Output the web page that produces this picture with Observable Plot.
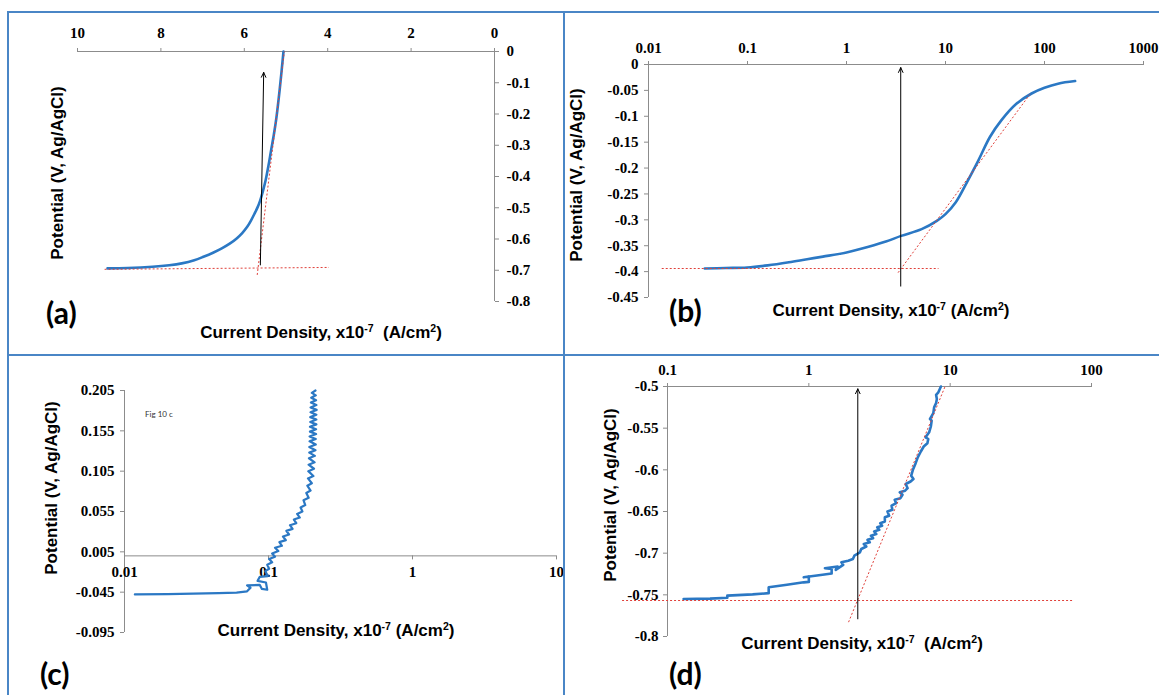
<!DOCTYPE html>
<html><head><meta charset="utf-8">
<script src="https://cdn.jsdelivr.net/npm/d3@7"></script>
<script src="https://cdn.jsdelivr.net/npm/@observablehq/plot@0.6"></script>
<style>
body{margin:0;background:#fff;}
#page{position:relative;width:1159px;height:695px;overflow:hidden;background:#fff;font-family:"Liberation Sans",Arial,sans-serif;}
#page svg{position:absolute;left:0;top:0;background:transparent;}
.bl{position:absolute;background:#4a86c6;}
.title{position:absolute;font-weight:bold;font-size:17px;white-space:nowrap;color:#000;line-height:1;}
.ytitle{transform:translate(-50%,-50%) rotate(-90deg);}
.xtitle{transform:translate(-50%,-50%);}
.plab{position:absolute;font-family:Lato,"Open Sans",sans-serif;font-weight:bold;font-size:30px;line-height:1;transform:translate(0,-50%);}
.fig{position:absolute;font-family:Lato,sans-serif;font-size:8px;color:#333;transform:translate(0,-50%);}
sup{font-size:62%;line-height:0;vertical-align:0.55em;}
</style></head>
<body><div id="page"></div>
<script>
// ---------- Panel (a) ----------
const aCurrent = [9.28, 8.8, 8.2, 7.8, 7.5, 7.2, 6.98, 6.75, 6.54, 6.35, 6.19, 6.05, 5.93, 5.84, 5.755, 5.68, 5.62, 5.55, 5.49, 5.42, 5.36, 5.29, 5.23, 5.15, 5.06];
const aPotential = [-0.694, -0.693, -0.689, -0.684, -0.678, -0.668, -0.657, -0.644, -0.630, -0.615, -0.599, -0.581, -0.561, -0.541, -0.519, -0.498, -0.477, -0.445, -0.413, -0.365, -0.318, -0.265, -0.212, -0.12, 0];
const aTangents = [{x1: 9.35, y1: -0.697, x2: 3.97, y2: -0.691}, {x1: 5.69, y1: -0.715, x2: 5.04, y2: 0}];
const aArrow = [{x1: 5.615, y1: -0.683, x2: 5.535, y2: -0.067}];
const aXTicks = [10, 8, 6, 4, 2, 0];
const aXLabels = ["10", "8", "6", "4", "2", "0"];
const aYTicks = [0, -0.1, -0.2, -0.3, -0.4, -0.5, -0.6, -0.7, -0.8];
const aYLabels = ["0", "-0.1", "-0.2", "-0.3", "-0.4", "-0.5", "-0.6", "-0.7", "-0.8"];

// ---------- Panel (b) ----------
const bCurrent = [0.037, 0.06, 0.099, 0.16, 0.262, 0.4, 0.578, 1.0, 1.67, 2.5, 3.56, 5.74, 8.17, 10, 12.7, 16.5, 21.5, 28.1, 36.6, 52, 74, 100, 137, 204];
const bPotential = [-0.394, -0.393, -0.392, -0.388, -0.382, -0.376, -0.371, -0.363, -0.352, -0.342, -0.331, -0.318, -0.302, -0.289, -0.266, -0.227, -0.185, -0.140, -0.108, -0.076, -0.056, -0.045, -0.037, -0.032];
const bTangents = [{x1: 0.0136, y1: -0.394, x2: 8.5, y2: -0.394}, {x1: 3.32, y1: -0.402, x2: 71, y2: -0.058}];
const bArrow = [{x1: 3.53, y1: -0.428, x2: 3.53, y2: -0.006}];
const bXTicks = [0.01, 0.1, 1, 10, 100, 1000];
const bXLabels = ["0.01", "0.1", "1", "10", "100", "1000"];
const bYTicks = [0, -0.05, -0.1, -0.15, -0.2, -0.25, -0.3, -0.35, -0.4, -0.45];
const bYLabels = ["0", "-0.05", "-0.1", "-0.15", "-0.2", "-0.25", "-0.3", "-0.35", "-0.4", "-0.45"];

// ---------- Panel (c) ----------
const cCurrent = [0.0118, 0.02, 0.03, 0.045, 0.06, 0.071, 0.075, 0.071, 0.087, 0.09, 0.098, 0.096, 0.084, 0.087, 0.099, 0.095, 0.101, 0.098, 0.106, 0.101, 0.111, 0.106, 0.117, 0.111, 0.124, 0.119, 0.132, 0.126, 0.139, 0.133, 0.147, 0.141, 0.156, 0.150, 0.165, 0.158, 0.172, 0.167, 0.180, 0.175, 0.190, 0.183, 0.196, 0.186, 0.200, 0.188, 0.205, 0.189, 0.207, 0.190, 0.209, 0.191, 0.210, 0.192, 0.212, 0.192, 0.213, 0.193, 0.213, 0.193, 0.214, 0.194, 0.214, 0.194, 0.215, 0.195, 0.215, 0.195, 0.215, 0.196, 0.216, 0.196, 0.215, 0.197, 0.214, 0.198, 0.213, 0.200, 0.212];
const cPotential = [-0.0478, -0.0474, -0.0469, -0.0463, -0.0455, -0.0440, -0.0395, -0.0365, -0.0360, -0.0410, -0.0420, -0.0330, -0.0310, -0.0260, -0.0250, -0.0190, -0.0160, -0.0110, -0.0080, -0.0040, -0.0010, 0.0030, 0.0060, 0.0100, 0.0125, 0.0170, 0.0195, 0.0240, 0.0265, 0.0310, 0.0335, 0.0380, 0.0405, 0.0450, 0.0475, 0.0520, 0.0550, 0.0600, 0.0630, 0.0690, 0.0720, 0.0780, 0.0810, 0.0870, 0.0900, 0.0960, 0.0990, 0.1050, 0.1080, 0.1130, 0.1160, 0.1210, 0.1240, 0.1280, 0.1310, 0.1350, 0.1380, 0.1420, 0.1450, 0.1480, 0.1510, 0.1540, 0.1570, 0.1600, 0.1630, 0.1660, 0.1690, 0.1720, 0.1750, 0.1780, 0.1810, 0.1840, 0.1870, 0.1900, 0.1930, 0.1960, 0.1990, 0.2020, 0.2050];
const cXTicks = [0.01, 0.1, 1, 10];
const cXLabels = ["0.01", "0.1", "1", "10"];
const cYTicks = [0.205, 0.155, 0.105, 0.055, 0.005, -0.045, -0.095];
const cYLabels = ["0.205", "0.155", "0.105", "0.055", "0.005", "-0.045", "-0.095"];

// ---------- Panel (d) ----------
const dCurrent = [0.13, 0.2, 0.265, 0.265, 0.4, 0.52, 0.52, 0.7, 0.92, 1.0, 1.0, 0.92, 1.25, 1.45, 1.45, 1.3, 1.6, 1.55, 1.75, 1.7, 1.9, 2.05, 2.1, 2.3, 2.35, 2.55, 2.45, 2.7, 2.6, 2.85, 2.75, 3.0, 2.9, 3.15, 3.05, 3.3, 3.2, 3.45, 3.45, 3.7, 3.6, 3.9, 3.85, 4.15, 4.05, 4.45, 4.6, 4.4, 4.8, 5.0, 4.85, 5.25, 5.5, 5.3, 5.45, 5.7, 5.9, 6.2, 6.5, 6.9, 7.0, 6.7, 7.1, 7.3, 7.4, 7.2, 7.6, 7.7, 7.95, 8.05, 7.95, 8.25, 8.45, 8.6];
const dPotential = [-0.755, -0.7545, -0.7535, -0.751, -0.7495, -0.748, -0.741, -0.738, -0.735, -0.7345, -0.728, -0.729, -0.726, -0.7245, -0.719, -0.718, -0.716, -0.72, -0.714, -0.711, -0.709, -0.707, -0.703, -0.699, -0.695, -0.692, -0.689, -0.687, -0.684, -0.682, -0.679, -0.677, -0.674, -0.672, -0.669, -0.667, -0.664, -0.662, -0.657, -0.655, -0.650, -0.648, -0.643, -0.640, -0.636, -0.634, -0.630, -0.627, -0.625, -0.622, -0.617, -0.614, -0.611, -0.607, -0.6, -0.592, -0.585, -0.578, -0.572, -0.568, -0.563, -0.561, -0.555, -0.548, -0.541, -0.539, -0.532, -0.525, -0.52, -0.515, -0.51, -0.507, -0.503, -0.5];
const dTangents = [{x1: 0.0477, y1: -0.7568, x2: 73.5, y2: -0.7568}, {x1: 1.91, y1: -0.7828, x2: 9.2, y2: -0.5}];
const dArrow = [{x1: 2.22, y1: -0.7788, x2: 2.22, y2: -0.5028}];
const dXTicks = [0.1, 1, 10, 100];
const dXLabels = ["0.1", "1", "10", "100"];
const dYTicks = [-0.5, -0.55, -0.6, -0.65, -0.7, -0.75, -0.8];
const dYLabels = ["-0.5", "-0.55", "-0.6", "-0.65", "-0.7", "-0.75", "-0.8"];

// ---------- styling ----------
const W = 1159, H = 695;
const BLUE = "#2b78c4", RED = "#e0403a", AXIS = "#8c8c8c";
const SERIF = "Liberation Serif, Times New Roman, serif";
const tickText = {fontFamily: SERIF, fontSize: 15, fontWeight: "bold", fill: "#000"};
const toRows = (xs, ys) => xs.map((x, i) => ({x, y: ys[i]}));
const svgStyle = {background: "transparent", position: "absolute", left: "0px", top: "0px", overflow: "visible"};
const page = document.getElementById("page");

function frame(left, top, right, bottom) {
  return {width: W, height: H, marginLeft: left, marginTop: top, marginRight: W - right, marginBottom: H - bottom, style: svgStyle};
}

// (a) linear reversed x on top, y on the right
page.appendChild(Plot.plot({
  ...frame(77, 51, 494, 301),
  x: {type: "linear", domain: [10, 0], axis: null},
  y: {type: "linear", domain: [-0.8, 0], axis: null},
  marks: [
    Plot.ruleY([0], {stroke: AXIS}),
    Plot.ruleX([0], {stroke: AXIS}),
    Plot.axisX({anchor: "top", ticks: aXTicks, tickSize: 4, stroke: AXIS, tickFormat: () => "", label: null}),
    Plot.axisY({anchor: "right", ticks: aYTicks, tickSize: 4, stroke: AXIS, tickFormat: () => "", label: null}),
    Plot.text(aXTicks, {x: d => d, y: 0, dy: -18, text: (d, i) => aXLabels[i], lineAnchor: "middle", textAnchor: "middle", ...tickText}),
    Plot.text(aYTicks, {x: 0, y: d => d, dx: 12, text: (d, i) => aYLabels[i], lineAnchor: "middle", textAnchor: "start", ...tickText}),
    Plot.line(toRows(aCurrent, aPotential), {x: "x", y: "y", stroke: BLUE, strokeWidth: 2.6, curve: "catmull-rom"}),
    Plot.link(aTangents, {x1: "x1", y1: "y1", x2: "x2", y2: "y2", stroke: RED, strokeWidth: 1, strokeDasharray: "2,2"}),
    Plot.arrow(aArrow, {x1: "x1", y1: "y1", x2: "x2", y2: "y2", stroke: "#000", strokeWidth: 1, headLength: 8, headAngle: 50})
  ]
}));

// (b) log x on top, y on the left
page.appendChild(Plot.plot({
  ...frame(648, 64, 1143, 297),
  x: {type: "log", domain: [0.01, 1000], axis: null},
  y: {type: "linear", domain: [-0.45, 0], axis: null},
  marks: [
    Plot.ruleY([0], {stroke: AXIS}),
    Plot.ruleX([0.01], {stroke: AXIS}),
    Plot.axisX({anchor: "top", ticks: bXTicks, tickSize: 4, stroke: AXIS, tickFormat: () => "", label: null}),
    Plot.axisY({anchor: "left", ticks: bYTicks, tickSize: 4, stroke: AXIS, tickFormat: () => "", label: null}),
    Plot.text(bXTicks, {x: d => d, y: 0, dy: -16, text: (d, i) => bXLabels[i], lineAnchor: "middle", textAnchor: "middle", ...tickText}),
    Plot.text(bYTicks, {x: 0.01, y: d => d, dx: -10, text: (d, i) => bYLabels[i], lineAnchor: "middle", textAnchor: "end", ...tickText}),
    Plot.line(toRows(bCurrent, bPotential), {x: "x", y: "y", stroke: BLUE, strokeWidth: 2.6, curve: "catmull-rom"}),
    Plot.link(bTangents, {x1: "x1", y1: "y1", x2: "x2", y2: "y2", stroke: RED, strokeWidth: 1, strokeDasharray: "2,2"}),
    Plot.arrow(bArrow, {x1: "x1", y1: "y1", x2: "x2", y2: "y2", stroke: "#000", strokeWidth: 1, headLength: 8, headAngle: 50})
  ]
}));

// (c) log x crossing at 0, y on the left
page.appendChild(Plot.plot({
  ...frame(124, 390, 556, 632),
  x: {type: "log", domain: [0.01, 10], axis: null},
  y: {type: "linear", domain: [-0.095, 0.205], axis: null},
  marks: [
    Plot.ruleY([0], {stroke: AXIS}),
    Plot.ruleX([0.01], {stroke: AXIS}),
    Plot.ruleX(cXTicks, {x: d => d, y1: 0, y2: -0.005, stroke: AXIS}),
    Plot.axisY({anchor: "left", ticks: cYTicks, tickSize: 4, stroke: AXIS, tickFormat: () => "", label: null}),
    Plot.text(cXTicks, {x: d => d, y: 0, dy: 16, text: (d, i) => cXLabels[i], lineAnchor: "middle", textAnchor: "middle", ...tickText}),
    Plot.text(cYTicks, {x: 0.01, y: d => d, dx: -10, text: (d, i) => cYLabels[i], lineAnchor: "middle", textAnchor: "end", ...tickText}),
    Plot.line(toRows(cCurrent, cPotential), {x: "x", y: "y", stroke: BLUE, strokeWidth: 2.2})
  ]
}));

// (d) log x on top, y on the left
page.appendChild(Plot.plot({
  ...frame(667, 386, 1091, 636),
  x: {type: "log", domain: [0.1, 100], axis: null},
  y: {type: "linear", domain: [-0.8, -0.5], axis: null},
  marks: [
    Plot.ruleY([-0.5], {stroke: AXIS}),
    Plot.ruleX([0.1], {stroke: AXIS}),
    Plot.axisX({anchor: "top", ticks: dXTicks, tickSize: 4, stroke: AXIS, tickFormat: () => "", label: null}),
    Plot.axisY({anchor: "left", ticks: dYTicks, tickSize: 4, stroke: AXIS, tickFormat: () => "", label: null}),
    Plot.text(dXTicks, {x: d => d, y: -0.5, dy: -16, text: (d, i) => dXLabels[i], lineAnchor: "middle", textAnchor: "middle", ...tickText}),
    Plot.text(dYTicks, {x: 0.1, y: d => d, dx: -9, text: (d, i) => dYLabels[i], lineAnchor: "middle", textAnchor: "end", ...tickText}),
    Plot.line(toRows(dCurrent, dPotential), {x: "x", y: "y", stroke: BLUE, strokeWidth: 2.6}),
    Plot.link(dTangents, {x1: "x1", y1: "y1", x2: "x2", y2: "y2", stroke: RED, strokeWidth: 1, strokeDasharray: "2,2"}),
    Plot.arrow(dArrow, {x1: "x1", y1: "y1", x2: "x2", y2: "y2", stroke: "#000", strokeWidth: 1, headLength: 8, headAngle: 50})
  ]
}));

// ---------- frame lines, titles, panel labels (HTML) ----------
const yTitle = "Potential (V, Ag/AgCl)";
const xTitle1 = "Current Density, x10<sup>-7</sup>&nbsp; (A/cm<sup>2</sup>)";
const xTitle2 = "Current Density, x10<sup>-7</sup> (A/cm<sup>2</sup>)";
const overlay = [
  `<div class="bl" style="left:7px;top:11px;width:1152px;height:1.5px"></div>`,
  `<div class="bl" style="left:7px;top:11px;width:1.5px;height:684px"></div>`,
  `<div class="bl" style="left:563px;top:11px;width:1.5px;height:684px"></div>`,
  `<div class="bl" style="left:7px;top:354px;width:1152px;height:1.5px"></div>`,
  `<div class="title ytitle" style="left:57px;top:173px">${yTitle}</div>`,
  `<div class="title xtitle" style="left:321px;top:332px">${xTitle1}</div>`,
  `<div class="title ytitle" style="left:576px;top:175px">${yTitle}</div>`,
  `<div class="title xtitle" style="left:891px;top:310px">${xTitle2}</div>`,
  `<div class="title ytitle" style="left:51px;top:488px">${yTitle}</div>`,
  `<div class="title xtitle" style="left:336px;top:630px">${xTitle2}</div>`,
  `<div class="title ytitle" style="left:610px;top:495px">${yTitle}</div>`,
  `<div class="title xtitle" style="left:862px;top:643px">${xTitle1}</div>`,
  `<div class="plab" style="left:46px;top:312px">(a)</div>`,
  `<div class="plab" style="left:669px;top:310px">(b)</div>`,
  `<div class="plab" style="left:40px;top:673px">(c)</div>`,
  `<div class="plab" style="left:669px;top:673px">(d)</div>`,
  `<div class="fig" style="left:145px;top:414px">Fig 10 c</div>`
];
page.insertAdjacentHTML("beforeend", overlay.join(""));
</script>
</body></html>
